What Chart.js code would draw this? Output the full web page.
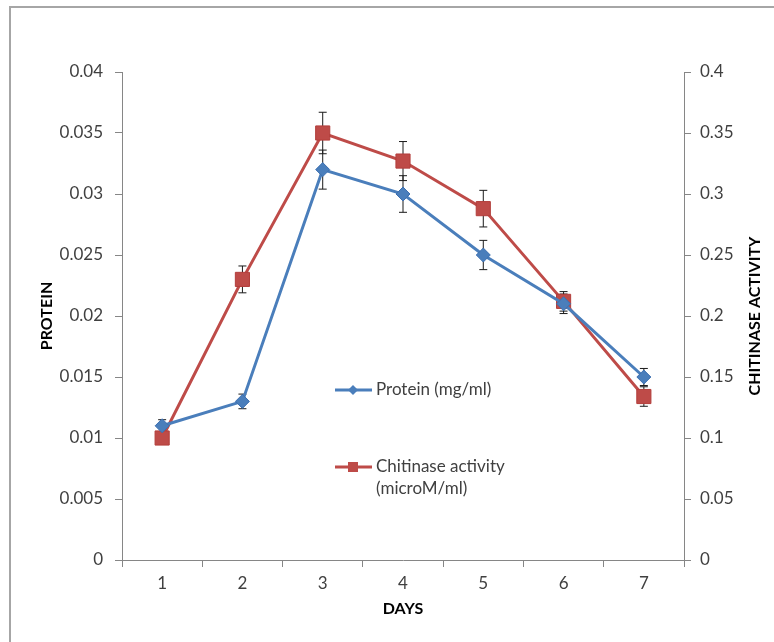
<!DOCTYPE html>
<html lang="en">
<head>
    <meta charset="UTF-8">
    <title>Protein and Chitinase Activity</title>
    <script src="https://cdn.jsdelivr.net/npm/chart.js"></script>
    <style>
        body {
            margin: 0;
            background: #ffffff;
            width: 774px;
            height: 642px;
            overflow: hidden;
            position: relative;
        }
        .frame {
            position: absolute;
            left: 9px;
            top: 6px;
            width: 900px;
            height: 800px;
            border-left: 2px solid #a6a6a6;
            border-top: 2px solid #a6a6a6;
        }
        canvas {
            position: absolute;
            left: 0;
            top: 0;
        }
    </style>
</head>
<body>
    <div class="frame"></div>
    <canvas id="chart" width="774" height="642"></canvas>

    <script>
        // values
        const days = ['1', '2', '3', '4', '5', '6', '7'];
        const protein = [0.011, 0.013, 0.032, 0.030, 0.025, 0.021, 0.015];
        const proteinErr = [0.0005, 0.0006, 0.0016, 0.0015, 0.0012, 0.0008, 0.0007];
        const chitinase = [0.100, 0.230, 0.350, 0.327, 0.288, 0.212, 0.134];
        const chitinaseErr = [0, 0.011, 0.017, 0.016, 0.015, 0.008, 0.008];
        const proteinTicks = { min: 0, max: 0.04, step: 0.005 };
        const chitinaseTicks = { min: 0, max: 0.4, step: 0.05 };

        const BLUE = '#4a7ebb';
        const RED = '#be4b48';
        const AXIS = '#868686';
        const TEXT = '#404040';
        const FONT = 'Lato, "Open Sans", sans-serif';

        // error bars, drawn under the markers
        const errorBars = {
            id: 'errorBars',
            beforeDatasetsDraw(chart) {
                const ctx = chart.ctx;
                const sets = [[protein, proteinErr, 'y'], [chitinase, chitinaseErr, 'y1']];
                ctx.save();
                ctx.strokeStyle = '#1a1a1a';
                ctx.lineWidth = 1;
                sets.forEach(([vals, errs, axis]) => {
                    const ys = chart.scales[axis];
                    vals.forEach((v, i) => {
                        if (!errs[i]) return;
                        const x = chart.scales.x.getPixelForValue(i);
                        const top = ys.getPixelForValue(v + errs[i]);
                        const bot = ys.getPixelForValue(v - errs[i]);
                        ctx.beginPath();
                        ctx.moveTo(x, top); ctx.lineTo(x, bot);
                        ctx.moveTo(x - 4, top); ctx.lineTo(x + 4, top);
                        ctx.moveTo(x - 4, bot); ctx.lineTo(x + 4, bot);
                        ctx.stroke();
                    });
                });
                ctx.restore();
            }
        };

        // legend inside the plot, plus the right axis title read bottom-to-top
        const extras = {
            id: 'extras',
            afterDraw(chart) {
                const ctx = chart.ctx;
                ctx.save();
                ctx.font = '17px ' + FONT;
                ctx.textBaseline = 'middle';
                ctx.textAlign = 'left';

                // protein
                ctx.strokeStyle = BLUE;
                ctx.lineWidth = 3;
                ctx.beginPath(); ctx.moveTo(335, 390); ctx.lineTo(372, 390); ctx.stroke();
                ctx.fillStyle = BLUE;
                ctx.beginPath();
                ctx.moveTo(353, 385); ctx.lineTo(358, 390); ctx.lineTo(353, 395); ctx.lineTo(348, 390);
                ctx.closePath(); ctx.fill();
                ctx.fillStyle = TEXT;
                ctx.fillText('Protein (mg/ml)', 376, 390);

                // chitinase
                ctx.strokeStyle = RED;
                ctx.beginPath(); ctx.moveTo(335, 467); ctx.lineTo(372, 467); ctx.stroke();
                ctx.fillStyle = RED;
                ctx.fillRect(348, 462, 10, 10);
                ctx.fillStyle = TEXT;
                ctx.fillText('Chitinase activity', 376, 467);
                ctx.fillText('(microM/ml)', 376, 489);

                // right axis title
                const a = chart.chartArea;
                ctx.translate(755, (a.top + a.bottom) / 2);
                ctx.rotate(-Math.PI / 2);
                ctx.textAlign = 'center';
                ctx.fillStyle = '#000';
                ctx.font = 'bold 16px ' + FONT;
                ctx.fillText('CHITINASE ACTIVITY', 0, 0);
                ctx.restore();
            }
        };

        const tickFont = { family: FONT, size: 17 };
        const titleFont = { family: FONT, size: 16, weight: 'bold' };

        new Chart(document.getElementById('chart'), {
            type: 'line',
            data: {
                labels: days,
                datasets: [{
                    label: 'Protein (mg/ml)',
                    data: protein,
                    yAxisID: 'y',
                    borderColor: BLUE,
                    backgroundColor: BLUE,
                    borderWidth: 3,
                    pointStyle: 'rectRot',
                    pointRadius: 7,
                    pointBorderWidth: 1,
                    pointBorderColor: '#3d6fb0',
                    tension: 0
                }, {
                    label: 'Chitinase activity (microM/ml)',
                    data: chitinase,
                    yAxisID: 'y1',
                    borderColor: RED,
                    backgroundColor: RED,
                    borderWidth: 3,
                    pointStyle: 'rect',
                    pointRadius: 10,
                    pointBorderWidth: 1,
                    pointBorderColor: '#b33e3b',
                    tension: 0
                }]
            },
            options: {
                responsive: false,
                animation: false,
                layout: { padding: { left: 30, right: 5, top: 72, bottom: 20 } },
                plugins: {
                    legend: { display: false },
                    tooltip: { enabled: false }
                },
                scales: {
                    x: {
                        offset: true,
                        grid: { offset: true, drawOnChartArea: false, drawTicks: true, tickLength: 7, color: AXIS },
                        border: { color: AXIS, width: 1 },
                        ticks: { color: TEXT, font: tickFont, padding: 6 },
                        title: { display: true, text: 'DAYS', color: '#000', font: titleFont, padding: { top: 4, bottom: 4 } },
                        afterFit(scale) { scale.height = 62; }
                    },
                    y: {
                        position: 'left',
                        min: proteinTicks.min,
                        max: proteinTicks.max,
                        grid: { drawOnChartArea: false, drawTicks: true, tickLength: 7, color: AXIS },
                        border: { color: AXIS, width: 1 },
                        ticks: {
                            stepSize: proteinTicks.step,
                            color: TEXT,
                            font: tickFont,
                            padding: 12,
                            callback: v => String(+v.toFixed(3))
                        },
                        title: { display: true, text: 'PROTEIN', color: '#000', font: titleFont, padding: { top: 7, bottom: 0 } },
                        afterFit(scale) { scale.width = 92; }
                    },
                    y1: {
                        position: 'right',
                        min: chitinaseTicks.min,
                        max: chitinaseTicks.max,
                        grid: { drawOnChartArea: false, drawTicks: true, tickLength: 7, color: AXIS },
                        border: { color: AXIS, width: 1 },
                        ticks: {
                            stepSize: chitinaseTicks.step,
                            color: TEXT,
                            font: tickFont,
                            padding: 9,
                            callback: v => String(+v.toFixed(2))
                        },
                        title: { display: false },
                        afterFit(scale) { scale.width = 85; }
                    }
                }
            },
            plugins: [errorBars, extras]
        });
    </script>
</body>
</html>
